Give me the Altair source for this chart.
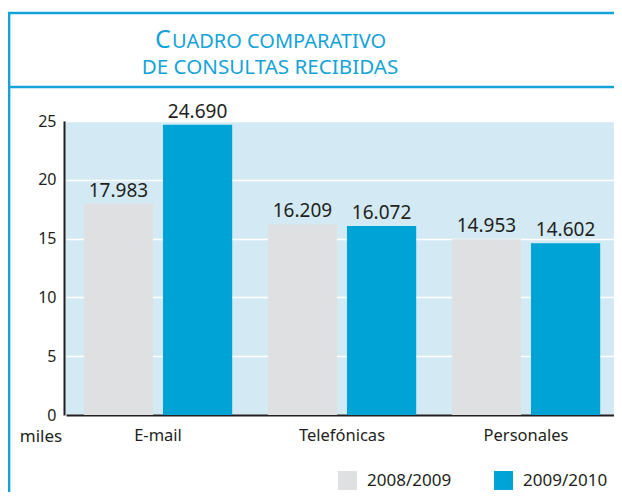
import altair as alt
import pandas as pd

categories = ["E-mail", "Telefónicas", "Personales"]
series_names = ["2008/2009", "2009/2010"]
values_0809 = [17.983, 16.209, 14.953]
values_0910 = [24.690, 16.072, 14.602]
y_ticks = [0, 5, 10, 15, 20, 25]
title_first = "C"
title_rest = "UADRO COMPARATIVO"
title_line2 = "DE CONSULTAS RECIBIDAS"
unit_label = "miles"

rows = []
for c, a, b in zip(categories, values_0809, values_0910):
    rows.append({"cat": c, "serie": series_names[0], "v": a, "lbl": f"{a:.3f}"})
    rows.append({"cat": c, "serie": series_names[1], "v": b, "lbl": f"{b:.3f}"})
df = pd.DataFrame(rows)

FONT = "Noto Sans"
TXT = "#231f20"
LINE = "#14a3d9"
GRAY = "#dfe0e2"
BLUE = "#00a3d6"
BG = "#d3eaf4"

x = alt.X("cat:N", sort=categories,
          scale=alt.Scale(paddingInner=0, paddingOuter=0, range=[2, 554]),
          axis=alt.Axis(title=None, labelAngle=0, ticks=False, labelPadding=12,
                        labelFontSize=16.5, labelFont=FONT, labelColor=TXT,
                        domainColor=TXT, domainWidth=2, grid=False))
xo = alt.XOffset("serie:N", sort=series_names,
                 scale=alt.Scale(paddingInner=0.125, paddingOuter=0.225))
y = alt.Y("v:Q", scale=alt.Scale(domain=[0, 25], nice=False),
          axis=alt.Axis(values=y_ticks, title=None, ticks=False, labelPadding=8,
                        labelFontSize=16, labelFont=FONT, labelColor=TXT,
                        gridColor="white", gridWidth=1.5, gridOpacity=1,
                        domainColor=TXT, domainWidth=2))
color = alt.Color("serie:N", sort=series_names,
                  scale=alt.Scale(domain=series_names, range=[GRAY, BLUE]),
                  legend=alt.Legend(orient="none", legendX=274, legendY=350,
                                    direction="horizontal", title=None,
                                    symbolType="square", symbolSize=361,
                                    symbolStrokeWidth=0, symbolOpacity=1,
                                    labelFontSize=17, labelFont=FONT, labelColor=TXT,
                                    labelOffset=10, columnPadding=42, padding=0))

base = alt.Chart(df)
bars = base.mark_bar().encode(x=x, xOffset=xo, y=y, color=color)
labels = base.mark_text(baseline="alphabetic", dy=-7, fontSize=19, font=FONT,
                        color=TXT).encode(x=x, xOffset=xo, y=y, text="lbl:N")

one = alt.Data(values=[{}])
deco = []
# frame lines
deco.append(alt.Chart(one).mark_rule(color=LINE, strokeWidth=2.7).encode(
    x=alt.value(-55), y=alt.value(-109), y2=alt.value(380)))
deco.append(alt.Chart(one).mark_rule(color=LINE, strokeWidth=2.7).encode(
    x=alt.value(-56), x2=alt.value(560), y=alt.value(-108)))
deco.append(alt.Chart(one).mark_rule(color=LINE, strokeWidth=2.7).encode(
    x=alt.value(-56), x2=alt.value(560), y=alt.value(-34)))
# title
deco.append(alt.Chart(one).mark_text(text=title_first, align="left", baseline="alphabetic",
                                     fontSize=25, font=FONT, color=LINE).encode(
    x=alt.value(155 - 64), y=alt.value(48 - 121)))
deco.append(alt.Chart(one).mark_text(text=title_rest, align="left", baseline="alphabetic",
                                     fontSize=20, font=FONT, color=LINE).encode(
    x=alt.value(172 - 64), y=alt.value(48 - 121)))
deco.append(alt.Chart(one).mark_text(text=title_line2, align="center", baseline="alphabetic",
                                     fontSize=20.6, font=FONT, color=LINE).encode(
    x=alt.value(270 - 64), y=alt.value(74 - 121)))
# unit
deco.append(alt.Chart(one).mark_text(text=unit_label, align="center", baseline="middle",
                                     fontSize=17, font=FONT, color=TXT).encode(
    x=alt.value(41 - 64), y=alt.value(437 - 121)))

chart = alt.layer(bars, labels, *deco).properties(
    width=550, height=294, autosize="none",
    padding={"left": 56, "top": 113, "right": 0, "bottom": 77},
    background="white",
).configure_view(fill=BG, stroke=None)

chart.save("out.html", embed_options={"renderer": "svg", "actions": False})
